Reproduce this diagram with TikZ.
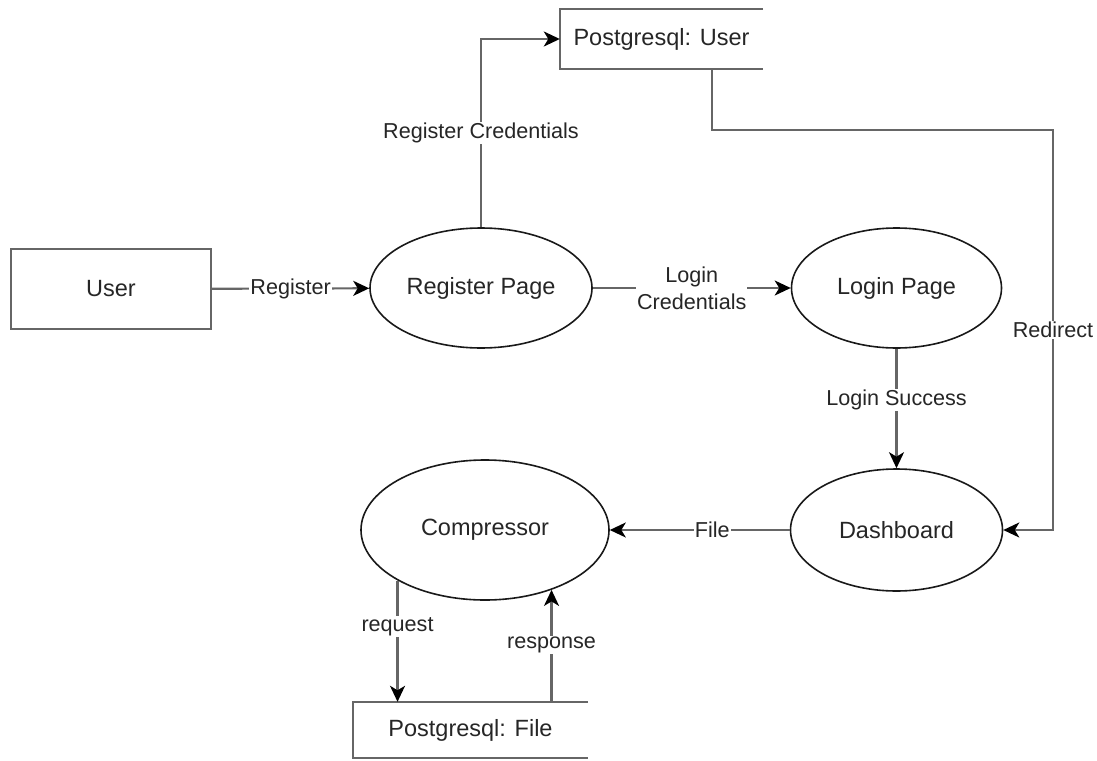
\documentclass[tikz,border=0pt]{standalone}
\usepackage{fontspec}
\setmainfont{Liberation Sans}
\usetikzlibrary{shapes.geometric,arrows.meta,calc}
\begin{document}
\begin{tikzpicture}[x=1pt,y=-1pt,
  every node/.style={text=black!85},
  nodefont/.style={font=\fontsize{23.5}{28}\selectfont},
  proc/.style={ellipse,draw=black!90,line width=1.6pt,inner sep=0pt,nodefont},
  ent/.style={rectangle,draw=black!60,line width=2.2pt,inner sep=0pt,nodefont},
  store/.style={rectangle,inner sep=0pt,nodefont},
  storeline/.style={draw=black!60,line width=2.2pt},
  flow/.style={draw=black!60,line width=2.2pt,-{Stealth[length=16pt,width=15pt,inset=4.5pt,color=black]}},
  lbl/.style={fill=white,inner sep=1pt,font=\fontsize{21.6}{27}\selectfont}]
\useasboundingbox (0,0) rectangle (1097,760);

\node[ent,minimum width=200pt,minimum height=80pt] (user) at (111,289) {User};
\node[proc,minimum width=222pt,minimum height=120pt] (reg) at (481,288) {Register Page};
\node[proc,minimum width=210pt,minimum height=120pt] (login) at (896.5,288) {Login Page};
\node[proc,minimum width=212pt,minimum height=122pt] (dash) at (896.5,530) {Dashboard};
\node[proc,minimum width=248pt,minimum height=140pt] (comp) at (485,530) {Compressor};
\node[store,minimum width=203pt,minimum height=60pt] (pgu) at (661.5,39) {Postgresql: User};
\node[store,minimum width=235pt,minimum height=56pt] (pgf) at (470.5,730) {Postgresql: File};

\draw[storeline] (pgu.north east) -- (pgu.north west) -- (pgu.south west) -- (pgu.south east);
\draw[storeline] (pgf.north east) -- (pgf.north west) -- (pgf.south west) -- (pgf.south east);

\draw[flow] (user) -- node[lbl]{Register} (reg);
\draw[flow] (reg) -- node[lbl,align=center]{Login\\Credentials} (login);
\draw[flow] (login) -- node[lbl,pos=0.43]{Login Success} (dash);
\draw[flow] (dash) -- node[lbl,pos=0.43]{File} (comp);
\draw[flow] (reg.north) |- node[lbl,pos=0.25]{Register Credentials} (pgu.west);

\coordinate (pguout) at ($(pgu.south west)!0.75!(pgu.south east)$);
\coordinate (rdc) at (1053,130);
\draw[flow] (pguout) |- (rdc) |- node[lbl,pos=0.25]{Redirect} (dash.east);

\draw[flow] (comp.210.4) -- node[lbl,pos=0.38]{request} (comp.210.4 |- pgf.north);
\draw[flow] (comp.318.7 |- pgf.north) -- node[lbl,pos=0.51]{response} (comp.318.7);
\end{tikzpicture}
\end{document}
